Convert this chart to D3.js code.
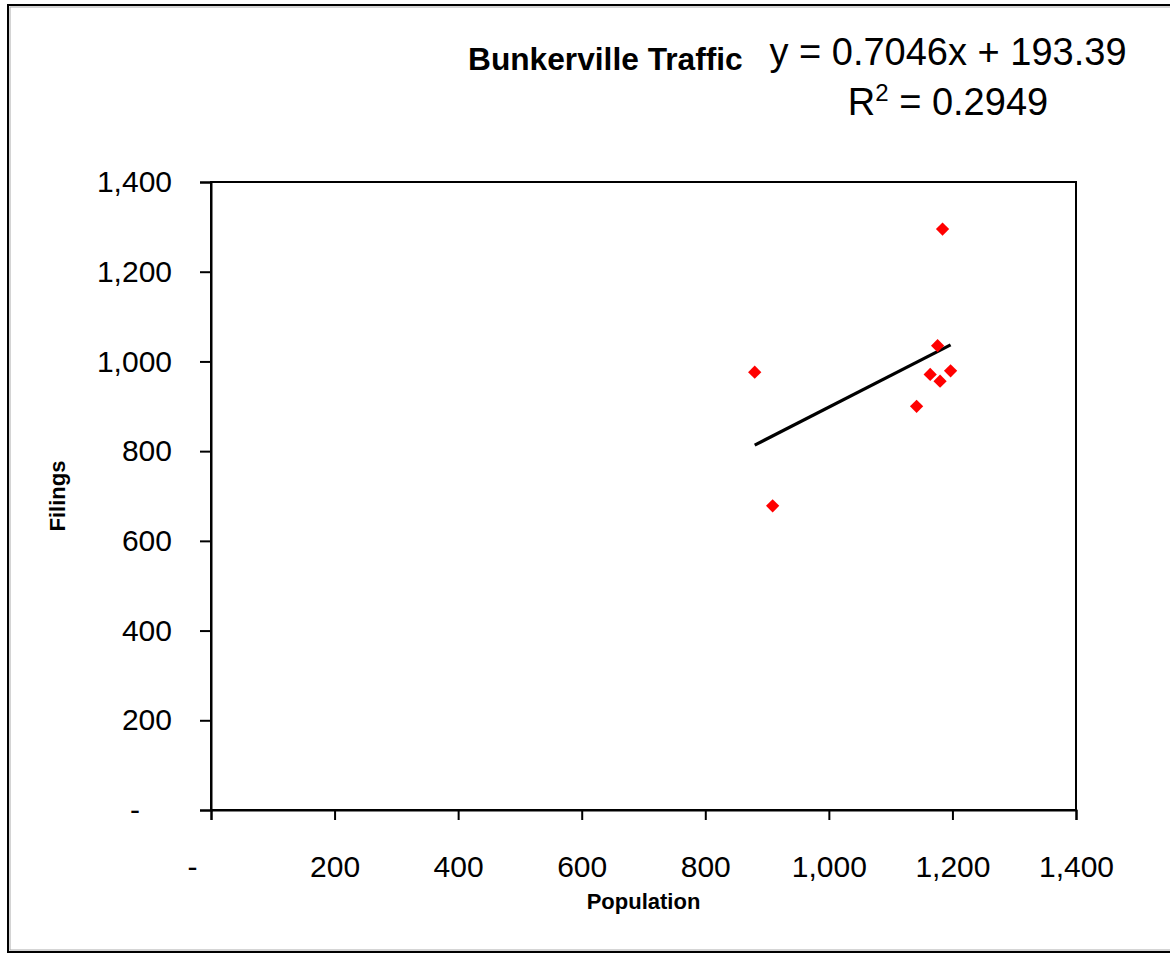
<!DOCTYPE html>
<html>
<head>
<meta charset="utf-8">
<script src="https://cdn.jsdelivr.net/npm/d3@7"></script>
<style>
  html, body { margin: 0; padding: 0; background: #fff; }
  svg { display: block; }
  text { font-family: "Liberation Sans", Arial, sans-serif; fill: #000; }
</style>
</head>
<body>
<div id="chart"></div>
<script>
// Bunkerville traffic filings against population
const population = [880, 909, 1142, 1164, 1176, 1180, 1184, 1197];
const filings    = [976, 678, 900, 971, 1035, 956, 1295, 979];

// Linear trend line coefficients and fit quality
const slope = 0.7046;
const intercept = 193.39;
const rSquared = 0.2949;

const xTicks = [0, 200, 400, 600, 800, 1000, 1200, 1400];
const yTicks = [0, 200, 400, 600, 800, 1000, 1200, 1400];

const W = 1170, H = 954;
const svg = d3.select("#chart").append("svg")
  .attr("width", W).attr("height", H);

// Outer chart frame
svg.append("rect")
  .attr("x", 8).attr("y", 5).attr("width", W + 10).attr("height", 947)
  .attr("fill", "#fff").attr("stroke", "#000").attr("stroke-width", 2);
svg.append("rect")
  .attr("x", 10).attr("y", 7).attr("width", W + 10).attr("height", 943)
  .attr("fill", "none").attr("stroke", "#aaa").attr("stroke-width", 1);

const x = d3.scaleLinear().domain([0, 1400]).range([211, 1076]);
const y = d3.scaleLinear().domain([0, 1400]).range([810, 182]);

const fmt = d => d === 0 ? "-" : d3.format(",")(d);

// Plot area border
svg.append("rect")
  .attr("x", x(0)).attr("y", y(1400))
  .attr("width", x(1400) - x(0)).attr("height", y(0) - y(1400))
  .attr("fill", "none").attr("stroke", "#000").attr("stroke-width", 2);

// Y axis
const gy = svg.append("g")
  .attr("transform", `translate(${x(0)},0)`)
  .call(d3.axisLeft(y).tickValues(yTicks).tickFormat(fmt).tickSize(11).tickPadding(28));
gy.select(".domain").attr("stroke", "#000").attr("stroke-width", 2);
gy.selectAll(".tick line").attr("stroke", "#000").attr("stroke-width", 2);
gy.selectAll(".tick text")
  .attr("font-size", 30).attr("font-family", "Liberation Sans, Arial, sans-serif")
  .attr("fill", "#1a1a1a")
  .attr("dx", d => d === 0 ? -32 : 0);

// X axis
const gx = svg.append("g")
  .attr("transform", `translate(0,${y(0)})`)
  .call(d3.axisBottom(x).tickValues(xTicks).tickFormat(fmt).tickSize(10).tickPadding(36));
gx.select(".domain").attr("stroke", "#000").attr("stroke-width", 2);
gx.selectAll(".tick line").attr("stroke", "#000").attr("stroke-width", 2);
gx.selectAll(".tick text")
  .attr("font-size", 30).attr("font-family", "Liberation Sans, Arial, sans-serif")
  .attr("fill", "#1a1a1a")
  .attr("dx", d => d === 0 ? -19 : 0);

// Trend line across the observed population range
const [xmin, xmax] = d3.extent(population);
svg.append("line")
  .attr("x1", x(xmin)).attr("y1", y(slope * xmin + intercept))
  .attr("x2", x(xmax)).attr("y2", y(slope * xmax + intercept))
  .attr("stroke", "#000").attr("stroke-width", 3.2);

// Data markers: red diamonds
const diamond = d3.symbol().type(d3.symbolSquare).size(88);
svg.append("g").selectAll("path")
  .data(population.map((p, i) => [p, filings[i]]))
  .join("path")
  .attr("d", diamond)
  .attr("transform", d => `translate(${x(d[0])},${y(d[1])}) rotate(45)`)
  .attr("fill", "#ff0000");

// Title and trend equation
svg.append("text")
  .attr("x", 468).attr("y", 70)
  .attr("font-size", 31.7).attr("font-weight", "bold")
  .text("Bunkerville Traffic");

svg.append("text")
  .attr("x", 948).attr("y", 65).attr("text-anchor", "middle")
  .attr("font-size", 38)
  .text(`y = ${slope}x + ${intercept}`);

const r2 = svg.append("text")
  .attr("x", 948).attr("y", 115).attr("text-anchor", "middle")
  .attr("font-size", 38);
r2.append("tspan").text("R");
r2.append("tspan").attr("font-size", 24).attr("dy", -14).text("2");
r2.append("tspan").attr("dy", 14).text(` = ${rSquared}`);

// Axis titles
svg.append("text")
  .attr("x", x(700)).attr("y", 909).attr("text-anchor", "middle")
  .attr("font-size", 22).attr("font-weight", "bold")
  .text("Population");

svg.append("text")
  .attr("transform", `translate(65,${(y(0) + y(1400)) / 2}) rotate(-90)`)
  .attr("text-anchor", "middle")
  .attr("font-size", 22).attr("font-weight", "bold")
  .text("Filings");
</script>
</body>
</html>
